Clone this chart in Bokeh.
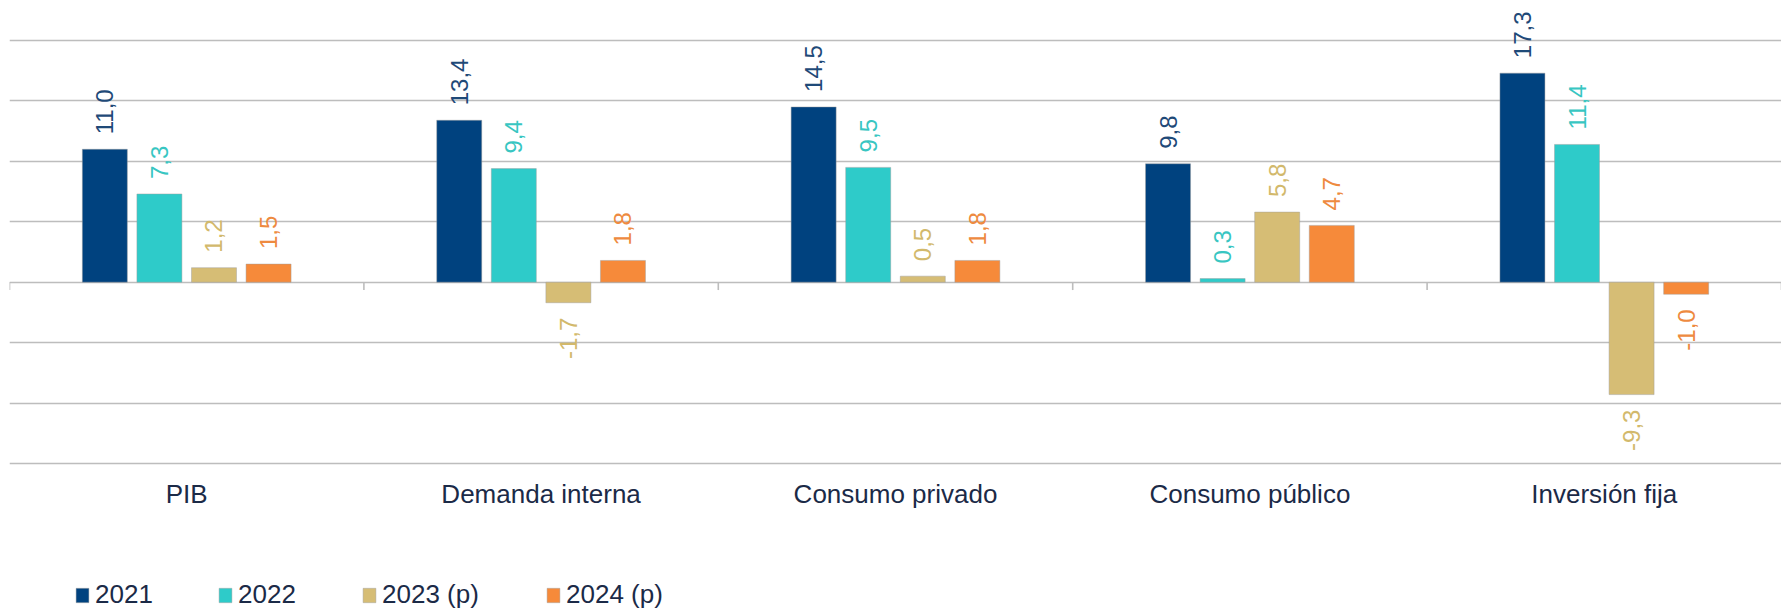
from bokeh.plotting import figure
from bokeh.models import ColumnDataSource, FactorRange, Range1d, FixedTicker, Legend, LegendItem
from bokeh.transform import dodge
from bokeh.embed import file_html
from bokeh.resources import INLINE
from bokeh.core.properties import value

categories = ["PIB", "Demanda interna", "Consumo privado", "Consumo público", "Inversión fija"]
series_names = ["2021", "2022", "2023 (p)", "2024 (p)"]
v2021 = [11.0, 13.4, 14.5, 9.8, 17.3]
v2022 = [7.3, 9.4, 9.5, 0.3, 11.4]
v2023 = [1.2, -1.7, 0.5, 5.8, -9.3]
v2024 = [1.5, 1.8, 1.8, 4.7, -1.0]
y_ticks = [-15, -10, -5, 0, 5, 10, 15, 20]

series_values = [v2021, v2022, v2023, v2024]
bar_colors = ["#00427F", "#2ECBC9", "#D6BD75", "#F68A3A"]
label_colors = ["#1F4A78", "#38C6C2", "#D2B96C", "#EE8A40"]
offsets = [-0.231, -0.077, 0.077, 0.231]
legend_x = [65, 208, 352, 536]
bar_w = 0.127
FONT = "Liberation Sans"
TEXT_COLOR = "#1B2A47"

p = figure(x_range=FactorRange(*categories), y_range=Range1d(-27.25, 23.31),
           width=1781, height=611, output_backend="svg", toolbar_location=None,
           min_border_left=9, min_border_right=0, min_border_top=0, min_border_bottom=0,
           outline_line_color=None, background_fill_color="white")

p.axis.visible = False
p.xgrid.visible = False
p.ygrid.ticker = FixedTicker(ticks=y_ticks)
p.ygrid.grid_line_color = "#BDBDBD"
p.ygrid.grid_line_width = 1.6

# separator ticks at category boundaries on the zero line
bounds = list(range(len(categories) + 1))
p.segment(x0=bounds, x1=bounds, y0=[0] * len(bounds), y1=[-0.65] * len(bounds),
          line_color="#BDBDBD", line_width=1.6)

# category labels below the lowest gridline
cat_src = ColumnDataSource(dict(cat=categories, y=[y_ticks[0]] * len(categories)))
p.text(x="cat", y="y", text="cat", source=cat_src, y_offset=31,
       text_align="center", text_baseline="middle",
       text_font=value(FONT), text_font_size="26px", text_color=TEXT_COLOR)

for name, vals, bc, lc, off, lx in zip(series_names, series_values, bar_colors,
                                         label_colors, offsets, legend_x):
    src = ColumnDataSource(dict(
        cat=categories,
        top=vals,
        label=[f"{v:.1f}".replace(".", ",") for v in vals],
        align=["left" if v >= 0 else "right" for v in vals],
        yoff=[-15 if v >= 0 else 15 for v in vals],
    ))
    r = p.vbar(x=dodge("cat", off, range=p.x_range), top="top", bottom=0, width=bar_w,
               source=src, fill_color=bc, line_color="#9E9E9E", line_alpha=0.45, line_width=1)
    p.text(x=dodge("cat", off, range=p.x_range), y="top", text="label", source=src,
           angle=1.5708, text_align="align", text_baseline="middle", y_offset="yoff",
           text_font=value(FONT), text_font_size="24px", text_color=lc)
    leg = Legend(items=[LegendItem(label=name, renderers=[r])], location=(lx, 1),
                 orientation="horizontal",
                 label_text_font=FONT, label_text_font_size="26px", label_text_color=TEXT_COLOR,
                 glyph_width=16, glyph_height=18, label_standoff=5,
                 border_line_color=None, background_fill_alpha=0, margin=0, padding=0)
    p.add_layout(leg)

open("out.html", "w").write(file_html(p, INLINE))
